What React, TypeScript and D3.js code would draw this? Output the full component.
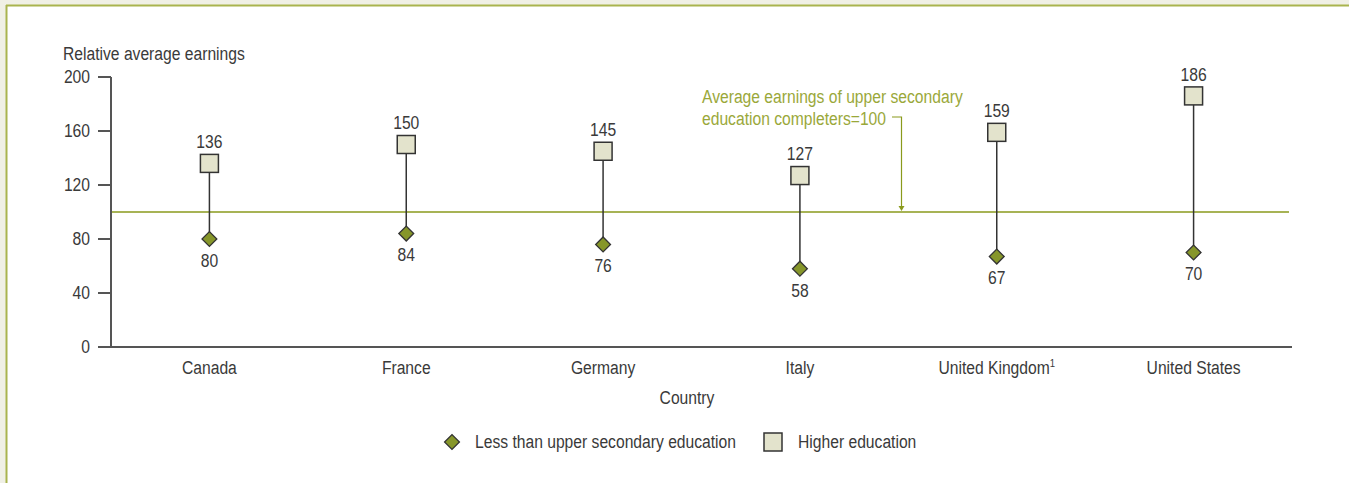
import React from "react";
import * as d3 from "d3";

const countries = ["Canada", "France", "Germany", "Italy", "United Kingdom", "United States"];
const footnotes = ["", "", "", "", "1", ""];
const lessThanUpperSecondary = [80, 84, 76, 58, 67, 70];
const higherEducation = [136, 150, 145, 127, 159, 186];
const yTicks = [0, 40, 80, 120, 160, 200];
const referenceValue = 100;
const annotationLines = ["Average earnings of upper secondary", "education completers=100"];
const legendLabels = ["Less than upper secondary education", "Higher education"];

const W = 1349;
const H = 483;
const FONT = "'Liberation Sans', Arial, sans-serif";
const SX = 0.87;
const TEXT = "#3a3a3a";
const OLIVE = "#8a9a1c";
const OLIVE_TEXT = "#9aa83a";
const MARK_OLIVE = "#86962a";
const SQUARE_FILL = "#e3e3cc";

function T(props: { x: number; y: number; anchor?: string; fill?: string; size?: number; children?: React.ReactNode }) {
  const { x, y, anchor = "start", fill = TEXT, size = 18, children } = props;
  return (
    <text
      transform={`translate(${x},${y}) scale(${SX},1)`}
      textAnchor={anchor}
      dy="0.35em"
      fontSize={size}
      fill={fill}
    >
      {children}
    </text>
  );
}

export default function App() {
  const x = d3.scaleBand<string>().domain(countries).range([111, 1292]);
  const y = d3.scaleLinear().domain([0, 200]).range([347, 77]);
  const cx = (c: string) => (x(c) as number) + x.bandwidth() / 2;
  const diamond = d3.symbol().type(d3.symbolSquare).size(110)();

  const refY = y(referenceValue);

  return (
    <svg width={W} height={H} style={{ position: "absolute", left: 0, top: 0 }} fontFamily={FONT}>
      <rect x={0} y={0} width={W} height={H} fill="#f0f0e5" />
      <rect x={7} y={6} width={W - 7} height={H - 6} fill="#ffffff" />
      <line x1={6.5} y1={5} x2={6.5} y2={H} stroke="#a9b44e" strokeWidth={2} />
      <line x1={6} y1={5.5} x2={W} y2={5.5} stroke="#a9b44e" strokeWidth={2} />

      {/* y axis title */}
      <T x={63} y={54}>Relative average earnings</T>

      {/* reference line */}
      <line x1={111} x2={1289} y1={refY} y2={refY} stroke={OLIVE} strokeWidth={1.5} />

      {/* y axis */}
      <line x1={111} x2={111} y1={y(200)} y2={y(0)} stroke="#555" strokeWidth={2} />
      {yTicks.map((t) => (
        <g key={t}>
          <line x1={98} x2={111} y1={y(t)} y2={y(t)} stroke="#555" strokeWidth={2} />
          <T x={90} y={y(t)} anchor="end">{t}</T>
        </g>
      ))}
      {/* x axis */}
      <line x1={110} x2={1292} y1={y(0)} y2={y(0)} stroke="#555" strokeWidth={2} />

      {/* category labels */}
      {countries.map((c, i) => (
        <T key={c} x={cx(c)} y={368} anchor="middle">
          {c}
          {footnotes[i] ? <tspan fontSize={11} dy="-0.7em">{footnotes[i]}</tspan> : null}
        </T>
      ))}
      <T x={687} y={398} anchor="middle">Country</T>

      {/* dumbbells */}
      {countries.map((c, i) => {
        const px = cx(c);
        const yl = y(lessThanUpperSecondary[i]);
        const yh = y(higherEducation[i]);
        return (
          <g key={c}>
            <line x1={px} x2={px} y1={yl} y2={yh} stroke="#333" strokeWidth={1.5} />
            <rect x={px - 9} y={yh - 9} width={18} height={18} fill={SQUARE_FILL} stroke="#333" strokeWidth={1.5} />
            <path d={diamond as string} transform={`translate(${px},${yl}) rotate(45)`} fill={MARK_OLIVE} stroke="#333" strokeWidth={1.3} />
            <T x={px} y={yh - 21.5} anchor="middle">{higherEducation[i]}</T>
            <T x={px} y={yl + 21.5} anchor="middle">{lessThanUpperSecondary[i]}</T>
          </g>
        );
      })}

      {/* annotation */}
      {annotationLines.map((l, i) => (
        <T key={i} x={702} y={97 + i * 22} fill={OLIVE_TEXT}>{l}</T>
      ))}
      <polyline points={`892,117 901.5,117 901.5,${refY - 4}`} fill="none" stroke={OLIVE} strokeWidth={1.2} />
      <path d={`M898.5,${refY - 6} L904.5,${refY - 6} L901.5,${refY - 1} Z`} fill={OLIVE} />

      {/* legend */}
      <path d={diamond as string} transform="translate(452,442) rotate(45)" fill={MARK_OLIVE} stroke="#333" strokeWidth={1.3} />
      <T x={475} y={442}>{legendLabels[0]}</T>
      <rect x={764} y={433} width={18} height={18} fill={SQUARE_FILL} stroke="#333" strokeWidth={1.5} />
      <T x={798} y={442}>{legendLabels[1]}</T>
    </svg>
  );
}
